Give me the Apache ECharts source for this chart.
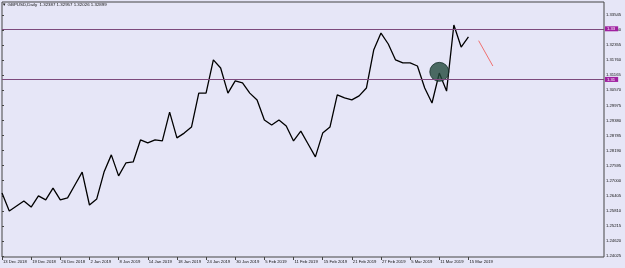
<!DOCTYPE html>
<html>
<head>
<meta charset="utf-8">
<script src="https://cdn.jsdelivr.net/npm/echarts@6/dist/echarts.min.js"></script>
<style>
html,body{margin:0;padding:0;background:#e6e6f7;}
#c{width:625px;height:268px;}
</style>
</head>
<body>
<div id="c"></div>
<script>
const dates = ['13 Dec 2018','14 Dec 2018','17 Dec 2018','18 Dec 2018','19 Dec 2018','20 Dec 2018','21 Dec 2018','24 Dec 2018','26 Dec 2018','27 Dec 2018','28 Dec 2018','31 Dec 2018','2 Jan 2019','3 Jan 2019','4 Jan 2019','7 Jan 2019','8 Jan 2019','9 Jan 2019','10 Jan 2019','11 Jan 2019','14 Jan 2019','15 Jan 2019','16 Jan 2019','17 Jan 2019','18 Jan 2019','21 Jan 2019','22 Jan 2019','23 Jan 2019','24 Jan 2019','25 Jan 2019','28 Jan 2019','29 Jan 2019','30 Jan 2019','31 Jan 2019','1 Feb 2019','4 Feb 2019','5 Feb 2019','6 Feb 2019','7 Feb 2019','8 Feb 2019','11 Feb 2019','12 Feb 2019','13 Feb 2019','14 Feb 2019','15 Feb 2019','18 Feb 2019','19 Feb 2019','20 Feb 2019','21 Feb 2019','22 Feb 2019','25 Feb 2019','26 Feb 2019','27 Feb 2019','28 Feb 2019','1 Mar 2019','4 Mar 2019','5 Mar 2019','6 Mar 2019','7 Mar 2019','8 Mar 2019','11 Mar 2019','12 Mar 2019','13 Mar 2019','14 Mar 2019','15 Mar 2019'];

const closes = [1.2651,1.2580,1.2600,1.2620,1.2596,1.2640,1.2624,1.2671,1.2624,1.2632,
1.2683,1.2734,1.2604,1.2628,1.2734,1.2802,1.2719,1.2770,1.2774,1.2861,
1.2849,1.2861,1.2857,1.2971,1.2869,1.2888,1.2912,1.3046,1.3046,1.3177,
1.3145,1.3046,1.3094,1.3086,1.3046,1.3019,1.2940,1.2920,1.2940,1.2916,
1.2857,1.2896,1.2845,1.2794,1.2888,1.2912,1.3039,1.3027,1.3019,1.3035,
1.3066,1.3216,1.3283,1.3240,1.3177,1.3165,1.3165,1.3153,1.3066,1.3007,
1.3125,1.3054,1.3315,1.3228,1.3268];

const xTickIdx = [0,4,8,12,16,20,24,28,32,36,40,44,48,52,56,60,64];
const yTicks = [1.33545,1.32950,1.32355,1.31760,1.31165,1.30570,1.29975,1.29380,1.28785,1.28190,1.27595,1.27000,1.26405,1.25810,1.25215,1.24620,1.24025];
const levels = [1.3276, 1.3133];
const levelLabels = ['1.32760', '1.31330'];
const circleX = [60];
const circleY = [1.3130];
const redLineX = [65.4, 67.35];
const redLineY = [1.3253, 1.3153];
const titleText = '\u25BC GBPUSD,Daily  1.32387 1.32957 1.32026 1.32899';

const FONT = 'Liberation Sans';
const chart = echarts.init(document.getElementById('c'), null, {renderer:'canvas'});
chart.setOption({
  animation:false,
  backgroundColor:'#e6e6f7',
  grid:{left:0, top:2, right:21, bottom:11, show:true, borderColor:'#444', borderWidth:1, backgroundColor:'transparent'},
  graphic:[{type:'text', left:2, top:3, style:{text:titleText, fontSize:4.4, fontFamily:FONT, fill:'#111'}}],
  xAxis:{
    type:'value', min:0, max:82.6,
    axisLine:{show:false}, splitLine:{show:false},
    axisTick:{show:true, length:3, lineStyle:{color:'#444'}, customValues:xTickIdx},
    axisLabel:{customValues:xTickIdx, formatter:v=>dates[Math.round(v)]||'', align:'left', fontSize:4.2, fontFamily:FONT, color:'#111', margin:3, padding:[0,0,0,1]}
  },
  yAxis:{
    type:'value', position:'right', min:1.23986, max:1.340585, scale:true,
    axisLine:{show:false}, splitLine:{show:false},
    axisTick:{show:true, length:2, lineStyle:{color:'#444'}, customValues:yTicks},
    axisLabel:{customValues:yTicks, formatter:v=>Number(v).toFixed(5), fontSize:4.2, fontFamily:FONT, color:'#111', margin:2}
  },
  series:[
    {
      type:'line', data:closes.map((v,i)=>[i,v]), showSymbol:false, symbol:'none',
      lineStyle:{color:'#000', width:1.3}, z:3,
      markLine:{
        silent:true, symbol:'none',
        lineStyle:{color:'#7d4a7d', width:1, type:'solid'},
        label:{position:'end', distance:1, formatter:p=>levelLabels[levels.indexOf(p.value)]||String(p.value), backgroundColor:'#a020a0', color:'#fff', fontSize:4.2, fontFamily:FONT, padding:[1,3,0,2]},
        data: levels.map(v=>({yAxis:v}))
      }
    },
    {
      type:'scatter', data:circleX.map((x,i)=>[x,circleY[i]]), symbolSize:19,
      itemStyle:{color:'#234a3c', borderColor:'#17302a', borderWidth:1}, z:4
    },
    {
      type:'line', data:redLineX.map((x,i)=>[x,redLineY[i]]), showSymbol:false, symbol:'none',
      lineStyle:{color:'#f07070', width:1}, z:2
    }
  ]
});
</script>
</body>
</html>
